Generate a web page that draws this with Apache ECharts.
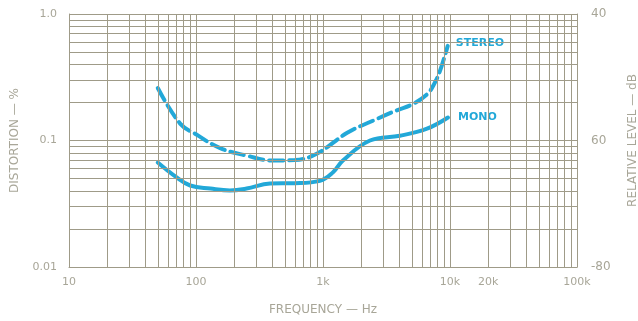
<!DOCTYPE html>
<html>
<head>
<meta charset="utf-8">
<script src="https://cdn.jsdelivr.net/npm/echarts@6/dist/echarts.min.js"></script>
<style>
html,body{margin:0;padding:0;background:#fff;}
#chart{width:638px;height:321px;}
</style>
</head>
<body>
<div id="chart"></div>
<script>
// data
var stereoFreq = [50, 75, 100, 155, 250, 400, 600, 900, 1550, 2500, 3800, 5000, 6600, 7500, 8300, 9600];
var stereoDist = [0.26, 0.136, 0.112, 0.087, 0.076, 0.0695, 0.070, 0.079, 0.115, 0.144, 0.173, 0.192, 0.232, 0.28, 0.35, 0.56];
var monoFreq = [50, 70, 90, 130, 185, 250, 383, 600, 946, 1200, 1435, 2345, 4035, 6590, 9640];
var monoDist = [0.067, 0.0513, 0.0441, 0.0417, 0.0403, 0.0417, 0.0457, 0.046, 0.048, 0.056, 0.0695, 0.1, 0.109, 0.124, 0.152];
var xTickVals = [10, 100, 1000, 10000, 20000, 100000];
var xTickText = ['10', '100', '1k', '10k', '20k', '100k'];
var yTickText = {'1': '1.0', '0.1': '0.1', '0.01': '0.01'};
var dbTickText = {'1': '40', '0.1': '60', '0.01': '-80'};

var lineCol = '#22a8d8';
var gridCol = '#9f9b88';
var textCol = '#a8a698';

function pairs(xs, ys){
	var out = [];
	for (var i = 0; i < xs.length; i++) out.push([xs[i], ys[i]]);
	return out;
}

// log paper grid: 2..9 inside each decade
var gridLines = [];
[10, 100, 1000, 10000].forEach(function(d){
	for (var m = 2; m <= 9; m++) gridLines.push({xAxis: d * m});
});
[0.01, 0.1].forEach(function(d){
	for (var m = 2; m <= 9; m++) gridLines.push({yAxis: d * m});
});

var myChart = echarts.init(document.getElementById('chart'));
var option = {
	animation: false,
	backgroundColor: '#fff',
	grid: {left: 69, right: 61, top: 14, bottom: 54, containLabel: false, outerBoundsMode: 'none'},
	xAxis: {
		type: 'log', logBase: 10, min: 10, max: 100000,
		name: 'FREQUENCY — Hz', nameLocation: 'middle', nameGap: 37,
		nameTextStyle: {color: textCol, fontSize: 12, fontFamily: 'DejaVu Sans'},
		axisLine: {show: true, lineStyle: {color: gridCol}},
		axisTick: {show: false},
		axisLabel: {
			color: textCol, fontSize: 11, fontFamily: 'DejaVu Sans', margin: 10,
			customValues: xTickVals,
			formatter: function(v){
				var i = xTickVals.indexOf(Math.round(v));
				return i >= 0 ? xTickText[i] : '';
			}
		},
		splitLine: {show: true, lineStyle: {color: gridCol, width: 1}}
	},
	yAxis: [{
		type: 'log', logBase: 10, min: 0.01, max: 1,
		name: 'DISTORTION — %', nameLocation: 'middle', nameGap: 48, nameRotate: 90,
		nameTextStyle: {color: textCol, fontSize: 12, fontFamily: 'DejaVu Sans'},
		axisLine: {show: true, lineStyle: {color: gridCol}},
		axisTick: {show: false},
		axisLabel: {
			color: textCol, fontSize: 11, fontFamily: 'DejaVu Sans', margin: 12,
			formatter: function(v){ return yTickText[String(+v.toPrecision(3))] || ''; }
		},
		splitLine: {show: true, lineStyle: {color: gridCol, width: 1}}
	}, {
		type: 'log', logBase: 10, min: 0.01, max: 1, position: 'right',
		name: 'RELATIVE LEVEL — dB', nameLocation: 'middle', nameGap: 50, nameRotate: 90,
		nameTextStyle: {color: textCol, fontSize: 12, fontFamily: 'DejaVu Sans'},
		axisLine: {show: true, lineStyle: {color: gridCol}},
		axisTick: {show: false},
		axisLabel: {
			color: textCol, fontSize: 12, fontFamily: 'DejaVu Sans', margin: 14,
			formatter: function(v){ return dbTickText[String(+v.toPrecision(3))] || ''; }
		},
		splitLine: {show: false}
	}],
	series: [{
		type: 'line', data: [], silent: true,
		markLine: {
			silent: true, symbol: 'none', label: {show: false},
			lineStyle: {color: gridCol, width: 1, type: 'solid'},
			data: gridLines
		}
	}, {
		name: 'STEREO', type: 'line', smooth: 0.4, symbol: 'none',
		data: pairs(stereoFreq, stereoDist),
		lineStyle: {color: lineCol, width: 4, type: [14, 6], cap: 'round'},
		endLabel: {show: true, formatter: '{a}', color: lineCol, fontSize: 11,
			fontWeight: 'bold', fontFamily: 'DejaVu Sans', offset: [0, -3]}
	}, {
		name: 'MONO', type: 'line', smooth: 0.4, symbol: 'none',
		data: pairs(monoFreq, monoDist),
		lineStyle: {color: lineCol, width: 4, cap: 'round'},
		endLabel: {show: true, formatter: '{a}', color: lineCol, fontSize: 11,
			fontWeight: 'bold', fontFamily: 'DejaVu Sans', offset: [2, 0]}
	}]
};
myChart.setOption(option);
</script>
</body>
</html>
